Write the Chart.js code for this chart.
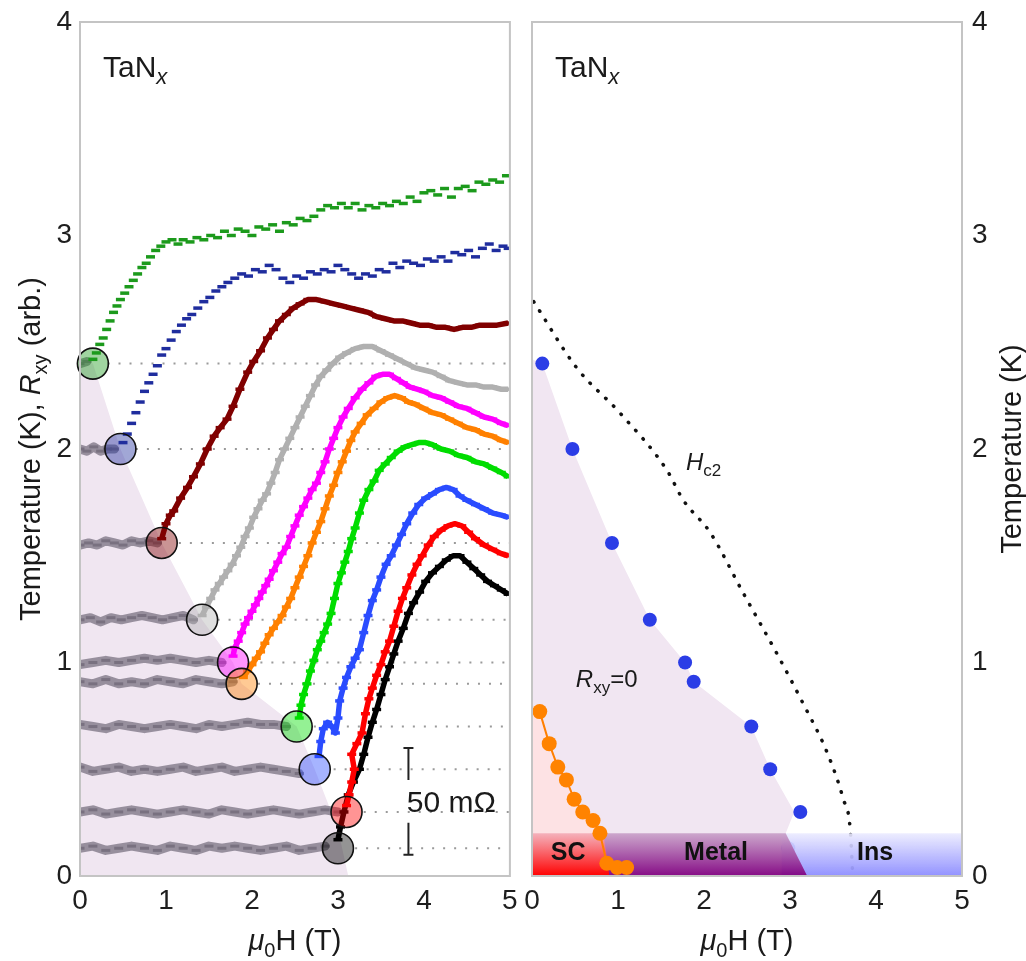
<!DOCTYPE html>
<html>
<head>
<meta charset="utf-8">
<script src="https://cdn.jsdelivr.net/npm/chart.js@4.4.1/dist/chart.umd.min.js"></script>
<style>
  html, body { margin: 0; padding: 0; background: #fff; }
  #wrap { position: relative; width: 1026px; height: 961px; overflow: hidden; }
  canvas { position: absolute; top: 0; }
  #left { left: 0; }
  #right { left: 520px; }
</style>
</head>
<body>
<div id="wrap">
  <canvas id="left" width="527" height="961"></canvas>
  <canvas id="right" width="506" height="961"></canvas>
</div>
<script>
const FONT = "'Liberation Sans', Arial, Helvetica, sans-serif";

// ---- left panel: R_xy(H) sweeps, offset by temperature ----
const temps = [2.4, 2.0, 1.56, 1.2, 1.0, 0.9, 0.7, 0.5, 0.3, 0.13];
const onsetH = [0.15, 0.47, 0.95, 1.42, 1.78, 1.88, 2.52, 2.73, 3.1, 3.0];
const sweepColors = ['#1c9a1c', '#1f2d9e', '#800000', '#b0b0b0', '#ff00ff', '#ff8000', '#00dd00', '#2a4cff', '#ff0000', '#000000'];
const sparseSweep = [true, true, false, false, false, false, false, false, false, false];
const guideStart = [0.32, 0.65, 1.15, 1.6, 1.97, 2.07, 2.72, 2.95, 3.3, 3.2];

const sweep240 = [[0.15,2.42],[0.19,2.45],[0.23,2.49],[0.27,2.52],[0.31,2.56],[0.35,2.6],[0.39,2.64],[0.43,2.67],[0.47,2.7],[0.52,2.73],[0.57,2.76],[0.62,2.79],[0.67,2.82],[0.72,2.85],[0.77,2.87],[0.82,2.9],[0.88,2.93],[0.94,2.95],[1.0,2.97],[1.07,2.98],[1.14,2.96],[1.2,2.98],[1.28,2.97],[1.36,2.99],[1.44,2.98],[1.52,3.0],[1.6,2.99],[1.68,3.02],[1.76,3.0],[1.84,3.03],[1.92,3.02],[2.0,3.0],[2.08,3.04],[2.16,3.03],[2.24,3.05],[2.32,3.02],[2.4,3.06],[2.48,3.05],[2.56,3.08],[2.64,3.07],[2.72,3.09],[2.8,3.12],[2.88,3.14],[2.96,3.13],[3.04,3.15],[3.12,3.13],[3.2,3.15],[3.28,3.12],[3.36,3.14],[3.44,3.13],[3.52,3.15],[3.6,3.14],[3.68,3.16],[3.76,3.15],[3.84,3.18],[3.92,3.16],[4.0,3.2],[4.08,3.21],[4.16,3.19],[4.24,3.22],[4.32,3.18],[4.4,3.22],[4.48,3.23],[4.56,3.21],[4.64,3.25],[4.72,3.24],[4.8,3.26],[4.88,3.25],[4.96,3.28]];
const sweep200 = [[0.5,2.03],[0.55,2.07],[0.6,2.12],[0.65,2.17],[0.7,2.22],[0.75,2.27],[0.8,2.31],[0.85,2.35],[0.9,2.39],[0.95,2.44],[1.0,2.47],[1.06,2.51],[1.12,2.55],[1.18,2.58],[1.24,2.61],[1.3,2.63],[1.37,2.66],[1.44,2.69],[1.51,2.71],[1.58,2.74],[1.65,2.76],[1.72,2.78],[1.8,2.8],[1.88,2.82],[1.96,2.81],[2.04,2.84],[2.12,2.83],[2.2,2.86],[2.28,2.84],[2.36,2.8],[2.44,2.78],[2.52,2.81],[2.6,2.8],[2.68,2.83],[2.76,2.82],[2.84,2.84],[2.92,2.83],[3.0,2.86],[3.08,2.84],[3.16,2.82],[3.24,2.8],[3.32,2.82],[3.4,2.81],[3.48,2.84],[3.56,2.83],[3.64,2.87],[3.72,2.85],[3.8,2.88],[3.88,2.87],[3.96,2.86],[4.04,2.89],[4.12,2.88],[4.2,2.9],[4.28,2.88],[4.36,2.92],[4.44,2.91],[4.52,2.93],[4.6,2.9],[4.68,2.94],[4.76,2.96],[4.84,2.93],[4.92,2.95],[4.98,2.94]];
const sweep156 = [[0.95,1.58],[1.0,1.65],[1.05,1.69],[1.09,1.71],[1.17,1.77],[1.25,1.82],[1.32,1.87],[1.4,1.93],[1.48,2.0],[1.56,2.06],[1.63,2.1],[1.71,2.14],[1.78,2.2],[1.86,2.28],[1.95,2.36],[2.02,2.41],[2.1,2.46],[2.18,2.52],[2.25,2.56],[2.32,2.6],[2.4,2.63],[2.48,2.66],[2.56,2.68],[2.65,2.7],[2.75,2.7],[2.85,2.69],[2.95,2.68],[3.05,2.67],[3.15,2.66],[3.25,2.65],[3.35,2.64],[3.45,2.62],[3.55,2.61],[3.65,2.6],[3.75,2.6],[3.85,2.59],[3.95,2.58],[4.05,2.58],[4.15,2.57],[4.25,2.57],[4.35,2.56],[4.45,2.57],[4.55,2.57],[4.65,2.58],[4.75,2.58],[4.85,2.58],[4.98,2.59]];
const sweep120 = [[1.42,1.22],[1.47,1.26],[1.52,1.3],[1.57,1.34],[1.62,1.37],[1.67,1.4],[1.72,1.43],[1.77,1.46],[1.82,1.5],[1.87,1.54],[1.92,1.59],[1.97,1.63],[2.02,1.68],[2.07,1.72],[2.12,1.76],[2.17,1.79],[2.22,1.84],[2.27,1.89],[2.32,1.95],[2.38,2.0],[2.44,2.05],[2.5,2.1],[2.56,2.15],[2.62,2.2],[2.68,2.25],[2.74,2.3],[2.8,2.34],[2.87,2.37],[2.94,2.4],[3.02,2.43],[3.1,2.45],[3.2,2.47],[3.3,2.48],[3.4,2.48],[3.5,2.46],[3.6,2.44],[3.7,2.42],[3.8,2.4],[3.9,2.38],[4.0,2.37],[4.1,2.36],[4.2,2.34],[4.3,2.32],[4.4,2.31],[4.5,2.3],[4.6,2.3],[4.7,2.29],[4.8,2.29],[4.9,2.28],[4.98,2.28]];
const sweep100 = [[1.78,1.03],[1.8,1.07],[1.84,1.1],[1.88,1.14],[1.92,1.18],[1.96,1.21],[2.0,1.24],[2.04,1.27],[2.08,1.3],[2.12,1.33],[2.16,1.36],[2.2,1.39],[2.25,1.43],[2.3,1.47],[2.35,1.51],[2.4,1.54],[2.45,1.59],[2.5,1.64],[2.55,1.69],[2.6,1.73],[2.65,1.77],[2.7,1.81],[2.75,1.84],[2.8,1.89],[2.85,1.94],[2.9,2.0],[2.95,2.05],[3.0,2.1],[3.06,2.15],[3.12,2.19],[3.2,2.24],[3.28,2.28],[3.36,2.31],[3.44,2.34],[3.52,2.35],[3.6,2.35],[3.68,2.33],[3.76,2.31],[3.84,2.29],[3.92,2.28],[4.0,2.27],[4.1,2.25],[4.2,2.24],[4.3,2.22],[4.4,2.2],[4.5,2.19],[4.6,2.17],[4.7,2.15],[4.8,2.14],[4.9,2.12],[4.98,2.11]];
const sweep090 = [[1.9,0.93],[1.95,0.96],[2.0,0.99],[2.05,1.02],[2.1,1.05],[2.15,1.09],[2.2,1.13],[2.25,1.16],[2.3,1.19],[2.35,1.22],[2.4,1.26],[2.45,1.3],[2.5,1.35],[2.55,1.4],[2.6,1.45],[2.65,1.5],[2.7,1.56],[2.75,1.61],[2.8,1.66],[2.85,1.72],[2.9,1.78],[2.95,1.83],[3.0,1.89],[3.05,1.94],[3.1,1.99],[3.15,2.04],[3.2,2.08],[3.27,2.12],[3.34,2.16],[3.42,2.19],[3.5,2.22],[3.58,2.24],[3.66,2.25],[3.74,2.24],[3.82,2.22],[3.9,2.21],[4.0,2.19],[4.1,2.17],[4.2,2.16],[4.3,2.14],[4.4,2.12],[4.5,2.1],[4.6,2.09],[4.7,2.07],[4.8,2.06],[4.9,2.04],[4.98,2.03]];
const sweep070 = [[2.55,0.74],[2.57,0.8],[2.6,0.85],[2.64,0.9],[2.68,0.96],[2.72,1.01],[2.76,1.06],[2.8,1.1],[2.84,1.14],[2.88,1.18],[2.92,1.23],[2.96,1.3],[3.0,1.37],[3.04,1.42],[3.08,1.47],[3.12,1.52],[3.16,1.58],[3.2,1.63],[3.25,1.7],[3.3,1.76],[3.36,1.81],[3.42,1.85],[3.48,1.9],[3.55,1.93],[3.62,1.96],[3.7,1.99],[3.78,2.01],[3.86,2.02],[3.94,2.03],[4.02,2.03],[4.1,2.02],[4.2,2.0],[4.3,1.99],[4.4,1.97],[4.5,1.96],[4.6,1.94],[4.7,1.93],[4.8,1.91],[4.9,1.89],[4.98,1.87]];
const sweep050 = [[2.78,0.56],[2.8,0.63],[2.83,0.69],[2.88,0.72],[2.93,0.7],[2.97,0.67],[3.0,0.74],[3.02,0.82],[3.06,0.88],[3.1,0.93],[3.15,0.98],[3.2,1.02],[3.25,1.06],[3.3,1.14],[3.35,1.22],[3.4,1.29],[3.45,1.34],[3.5,1.4],[3.56,1.46],[3.62,1.5],[3.68,1.55],[3.74,1.6],[3.8,1.65],[3.87,1.7],[3.94,1.74],[4.02,1.77],[4.1,1.79],[4.18,1.81],[4.26,1.82],[4.34,1.81],[4.42,1.78],[4.5,1.76],[4.6,1.74],[4.7,1.72],[4.8,1.7],[4.9,1.69],[4.98,1.68]];
const sweep030 = [[3.1,0.33],[3.13,0.38],[3.16,0.44],[3.19,0.5],[3.16,0.57],[3.22,0.62],[3.28,0.67],[3.32,0.76],[3.36,0.83],[3.4,0.88],[3.45,0.94],[3.5,0.99],[3.55,1.05],[3.6,1.1],[3.65,1.17],[3.7,1.24],[3.75,1.3],[3.8,1.35],[3.86,1.41],[3.92,1.46],[3.98,1.5],[4.05,1.55],[4.12,1.59],[4.2,1.62],[4.28,1.64],[4.36,1.65],[4.44,1.64],[4.52,1.61],[4.6,1.58],[4.7,1.55],[4.8,1.53],[4.9,1.51],[4.98,1.5]];
const sweep013 = [[3.0,0.17],[3.03,0.23],[3.07,0.3],[3.12,0.38],[3.18,0.44],[3.25,0.5],[3.3,0.57],[3.35,0.65],[3.4,0.72],[3.45,0.78],[3.5,0.85],[3.55,0.92],[3.6,0.98],[3.65,1.04],[3.7,1.1],[3.76,1.16],[3.82,1.23],[3.88,1.28],[3.95,1.33],[4.02,1.38],[4.1,1.42],[4.18,1.45],[4.26,1.48],[4.34,1.5],[4.42,1.5],[4.5,1.47],[4.58,1.44],[4.66,1.41],[4.74,1.38],[4.82,1.36],[4.9,1.34],[4.98,1.32]];

// flat (R_xy = 0) part of each sweep, drawn grey
const flat240 = [[0.0,2.4],[0.08,2.41]];
const flat200 = [[0,2.0],[0.08,1.99],[0.16,2.01],[0.24,1.99],[0.32,2.0],[0.4,2.0]];
const flat156 = [[0,1.55],[0.1,1.56],[0.2,1.55],[0.3,1.57],[0.4,1.56],[0.5,1.55],[0.6,1.57],[0.7,1.56],[0.8,1.57],[0.9,1.56]];
const flat120 = [[0,1.2],[0.12,1.21],[0.24,1.19],[0.36,1.21],[0.48,1.2],[0.6,1.21],[0.72,1.22],[0.84,1.21],[0.96,1.2],[1.08,1.21],[1.2,1.22],[1.32,1.2]];
const flat100 = [[0,0.99],[0.15,1.0],[0.3,1.01],[0.45,1.0],[0.6,1.01],[0.75,1.02],[0.9,1.01],[1.05,1.02],[1.2,1.01],[1.35,1.0],[1.5,1.01],[1.65,1.0]];
const flat090 = [[0,0.91],[0.15,0.9],[0.3,0.92],[0.45,0.9],[0.6,0.91],[0.75,0.9],[0.9,0.92],[1.05,0.91],[1.2,0.9],[1.35,0.92],[1.5,0.91],[1.65,0.9],[1.78,0.91]];
const flat070 = [[0,0.71],[0.15,0.7],[0.3,0.69],[0.45,0.71],[0.6,0.7],[0.75,0.69],[0.9,0.7],[1.05,0.71],[1.2,0.7],[1.35,0.69],[1.5,0.71],[1.65,0.7],[1.8,0.71],[1.95,0.72],[2.1,0.71],[2.25,0.71],[2.4,0.7]];
const flat050 = [[0,0.51],[0.15,0.49],[0.3,0.5],[0.45,0.51],[0.6,0.49],[0.75,0.5],[0.9,0.49],[1.05,0.5],[1.2,0.51],[1.35,0.49],[1.5,0.5],[1.65,0.51],[1.8,0.49],[1.95,0.5],[2.1,0.51],[2.25,0.5],[2.4,0.49],[2.55,0.48]];
const flat030 = [[0,0.3],[0.15,0.31],[0.3,0.29],[0.45,0.3],[0.6,0.31],[0.75,0.3],[0.9,0.29],[1.05,0.3],[1.2,0.31],[1.35,0.3],[1.5,0.29],[1.65,0.31],[1.8,0.3],[1.95,0.29],[2.1,0.3],[2.25,0.31],[2.4,0.3],[2.55,0.29],[2.7,0.3],[2.85,0.31],[3.0,0.3]];
const flat013 = [[0,0.13],[0.15,0.14],[0.3,0.12],[0.45,0.13],[0.6,0.14],[0.75,0.13],[0.9,0.12],[1.05,0.14],[1.2,0.13],[1.35,0.12],[1.5,0.14],[1.65,0.13],[1.8,0.14],[1.95,0.13],[2.1,0.12],[2.25,0.13],[2.4,0.14],[2.55,0.12],[2.7,0.13],[2.85,0.14]];

const zoneLeft = [[0,2.42],[0.15,2.4],[0.47,2.0],[0.95,1.56],[1.42,1.2],[1.78,1.0],[1.88,0.9],[2.52,0.7],[2.73,0.5],[3.0,0.22],[3.12,0]];

// ---- right panel: phase diagram ----
const rxyZeroH = [0.12, 0.47, 0.93, 1.37, 1.78, 1.88, 2.55, 2.77, 3.12, 2.98];
const rxyZeroT = [2.4, 2.0, 1.56, 1.2, 1.0, 0.91, 0.7, 0.5, 0.3, 0.13];
const scH = [0.09, 0.2, 0.3, 0.4, 0.49, 0.59, 0.71, 0.79, 0.87, 0.99, 1.1];
const scT = [0.77, 0.62, 0.51, 0.45, 0.36, 0.3, 0.26, 0.2, 0.06, 0.04, 0.04];
const hc2 = [[0.02,2.69],[0.52,2.38],[1.02,2.17],[1.57,1.9],[1.76,1.76],[2.07,1.61],[2.45,1.33],[2.85,1.04],[3.15,0.81],[3.43,0.58],[3.62,0.36],[3.7,0.22],[3.73,0]];
const zoneRight = [[0,2.42],[0.12,2.4],[0.47,2.0],[0.93,1.56],[1.37,1.2],[1.78,1.0],[1.88,0.91],[2.55,0.7],[2.77,0.5],[3.05,0.3],[2.95,0.2],[3.15,0]];
const scZone = [[0,0.8],[0.09,0.77],[0.2,0.62],[0.3,0.51],[0.4,0.45],[0.49,0.36],[0.59,0.3],[0.71,0.26],[0.79,0.2],[0.87,0.06],[0.9,0]];
const scBand = [[0,0.2],[0.83,0.2],[0.9,0]];
const metalBand = [[0.83,0.2],[2.95,0.2],[3.2,0]];
const insBand = [[2.9,0.2],[5,0.2]];

const pts = a => a.map(([x, y]) => ({ x, y }));
const rgba = (hex, a) => {
  const n = parseInt(hex.slice(1), 16);
  return `rgba(${n >> 16},${(n >> 8) & 255},${n & 255},${a})`;
};

// tick marks are kept (transparent) so labels get their offset from tickLength
const hiddenGrid = tl => ({ display: true, drawOnChartArea: false, drawTicks: true, tickLength: tl, tickColor: 'rgba(0,0,0,0)' });
function xAxis() {
  return {
    type: 'linear', min: 0, max: 5,
    grid: hiddenGrid(8),
    border: { display: false },
    ticks: { stepSize: 1, color: '#1e1e1e', font: { family: FONT, size: 28 }, padding: 0, maxRotation: 0, autoSkip: false },
    afterFit(s) { s.height = 85; }
  };
}
function yAxis(pos, w, tl) {
  return {
    position: pos, min: 0, max: 4,
    grid: hiddenGrid(tl),
    border: { display: false },
    ticks: { stepSize: 1, color: '#1e1e1e', font: { family: FONT, size: 28 }, padding: 0 },
    afterFit(s) { s.width = w; }
  };
}

// text with mixed fonts (italics, subscripts)
function drawParts(ctx, parts, x, y, align) {
  let w = 0;
  parts.forEach(p => { ctx.font = p.f; w += ctx.measureText(p.t).width; });
  let cx = align === 'center' ? x - w / 2 : x;
  ctx.textAlign = 'left';
  ctx.textBaseline = 'alphabetic';
  parts.forEach(p => {
    ctx.font = p.f;
    ctx.fillText(p.t, cx, y + (p.dy || 0));
    cx += ctx.measureText(p.t).width;
  });
}
const big = `29px ${FONT}`, bigI = `italic 29px ${FONT}`, sub = `20px ${FONT}`;
const xTitle = [{ t: 'μ', f: bigI }, { t: '0', f: sub, dy: 7 }, { t: 'H (T)', f: big }];
const tanx = [{ t: 'TaN', f: `30px ${FONT}` }, { t: 'x', f: `italic 22px ${FONT}`, dy: 7 }];

const frame = {
  id: 'frame',
  afterDatasetsDraw(chart) {
    const { ctx, chartArea: a } = chart;
    ctx.save();
    ctx.strokeStyle = '#c4c4c4';
    ctx.lineWidth = 2;
    ctx.strokeRect(a.left, a.top, a.right - a.left, a.bottom - a.top);
    ctx.restore();
  }
};

const leftText = {
  id: 'leftText',
  afterDraw(chart) {
    const { ctx, chartArea: a, scales: { x, y } } = chart;
    ctx.save();
    ctx.fillStyle = '#1a1a1a';
    drawParts(ctx, tanx, a.left + 23, 77);
    drawParts(ctx, xTitle, (a.left + a.right) / 2, 950, 'center');
    ctx.save();
    ctx.translate(30, (a.top + a.bottom) / 2);
    ctx.rotate(-Math.PI / 2);
    drawParts(ctx, [{ t: 'Temperature (K), ', f: big }, { t: 'R', f: bigI }, { t: 'xy', f: sub, dy: 7 }, { t: ' (arb.)', f: big }], 0, 10, 'center');
    ctx.restore();
    // 50 mOhm scale bar
    const bx = x.getPixelForValue(3.82);
    ctx.strokeStyle = '#222';
    ctx.lineWidth = 2;
    ctx.beginPath();
    ctx.moveTo(bx, y.getPixelForValue(0.6)); ctx.lineTo(bx, y.getPixelForValue(0.45));
    ctx.moveTo(bx, y.getPixelForValue(0.25)); ctx.lineTo(bx, y.getPixelForValue(0.1));
    ctx.moveTo(bx - 5, y.getPixelForValue(0.6)); ctx.lineTo(bx + 5, y.getPixelForValue(0.6));
    ctx.moveTo(bx - 5, y.getPixelForValue(0.1)); ctx.lineTo(bx + 5, y.getPixelForValue(0.1));
    ctx.stroke();
    drawParts(ctx, [{ t: '50 mΩ', f: `30px ${FONT}` }], x.getPixelForValue(4.32), y.getPixelForValue(0.3), 'center');
    ctx.restore();
  }
};

const rightText = {
  id: 'rightText',
  afterDraw(chart) {
    const { ctx, chartArea: a, scales: { x, y } } = chart;
    ctx.save();
    ctx.fillStyle = '#1a1a1a';
    drawParts(ctx, tanx, a.left + 23, 77);
    drawParts(ctx, xTitle, (a.left + a.right) / 2, 950, 'center');
    drawParts(ctx, [{ t: 'H', f: `italic 24px ${FONT}` }, { t: 'c2', f: `17px ${FONT}`, dy: 6 }], x.getPixelForValue(1.79), y.getPixelForValue(1.9));
    drawParts(ctx, [{ t: 'R', f: `italic 24px ${FONT}` }, { t: 'xy', f: `17px ${FONT}`, dy: 6 }, { t: '=0', f: `24px ${FONT}` }], x.getPixelForValue(0.51), y.getPixelForValue(0.885));
    const bold = `bold 25px ${FONT}`;
    ctx.fillStyle = '#111';
    drawParts(ctx, [{ t: 'SC', f: bold }], x.getPixelForValue(0.42), y.getPixelForValue(0.075), 'center');
    drawParts(ctx, [{ t: 'Metal', f: bold }], x.getPixelForValue(2.14), y.getPixelForValue(0.075), 'center');
    drawParts(ctx, [{ t: 'Ins', f: bold }], x.getPixelForValue(3.99), y.getPixelForValue(0.075), 'center');
    ctx.fillStyle = '#1a1a1a';
    ctx.save();
    ctx.translate(491, (a.top + a.bottom) / 2);
    ctx.rotate(-Math.PI / 2);
    drawParts(ctx, [{ t: 'Temperature (K)', f: big }], 0, 10, 'center');
    ctx.restore();
    ctx.restore();
  }
};

// ---- left chart ----
const sweeps = [sweep240, sweep200, sweep156, sweep120, sweep100, sweep090, sweep070, sweep050, sweep030, sweep013];
const flats = [flat240, flat200, flat156, flat120, flat100, flat090, flat070, flat050, flat030, flat013];
const leftSets = [];
leftSets.push({
  data: onsetH.map((h, i) => ({ x: h, y: temps[i] })),
  showLine: false, pointRadius: 15.5,
  pointBackgroundColor: sweepColors.map(c => rgba(c, 0.42)),
  pointBorderColor: '#111', pointBorderWidth: 1.6, order: 0, clip: false
});
sweeps.forEach((s, i) => leftSets.push({
  data: pts(s), showLine: !sparseSweep[i],
  borderColor: sweepColors[i], borderWidth: 5.5, borderJoinStyle: 'round',
  pointStyle: 'line', pointRadius: 4.5, pointBorderWidth: 3.5,
  pointBorderColor: sweepColors[i], pointBackgroundColor: sweepColors[i], order: 1
}));
flats.forEach(f => leftSets.push({
  data: pts(f), showLine: true,
  borderColor: 'rgba(135,127,142,0.85)', borderWidth: 9, borderJoinStyle: 'round', borderCapStyle: 'round',
  pointStyle: 'line', pointRadius: 4.5, pointBorderWidth: 3,
  pointBorderColor: 'rgba(118,110,125,0.9)', order: 2
}));
temps.forEach((t, i) => leftSets.push({
  data: [{ x: guideStart[i], y: t }, { x: 5, y: t }],
  showLine: true, borderColor: '#9a9a9a', borderWidth: 2, borderDash: [2, 9], pointRadius: 0, order: 3
}));
leftSets.push({
  data: pts(zoneLeft), showLine: true, fill: 'origin',
  backgroundColor: '#f0e6f1', borderColor: 'rgba(0,0,0,0)', borderWidth: 1, pointRadius: 0, order: 4
});

new Chart(document.getElementById('left'), {
  type: 'line',
  data: { datasets: leftSets },
  options: {
    responsive: false, animation: false, devicePixelRatio: 1,
    layout: { padding: { top: 22, right: 11, left: 0, bottom: 0 } },
    plugins: { legend: { display: false }, tooltip: { enabled: false } },
    scales: { x: xAxis(), y: yAxis('left', 80, 8) }
  },
  plugins: [frame, leftText]
});

// ---- right chart ----
function bandFill(bottom, top) {
  return c => {
    const chart = c.chart;
    if (!chart.chartArea) return bottom;
    const ys = chart.scales.y;
    const g = chart.ctx.createLinearGradient(0, ys.getPixelForValue(0), 0, ys.getPixelForValue(0.2));
    g.addColorStop(0, bottom);
    g.addColorStop(1, top);
    return g;
  };
}
const clear = 'rgba(0,0,0,0)';
const rightSets = [
  {
    data: scH.map((h, i) => ({ x: h, y: scT[i] })), showLine: true,
    borderColor: '#ff7f00', borderWidth: 2, pointRadius: 7.5,
    pointBackgroundColor: '#ff8300', pointBorderColor: '#ff8300', pointBorderWidth: 0, order: 0, clip: false
  },
  { data: pts(scBand), fill: 'origin', backgroundColor: bandFill('rgba(255,0,0,1)', 'rgba(244,175,185,0.95)'), borderColor: clear, pointRadius: 0, order: 1 },
  { data: pts(metalBand), fill: 'origin', backgroundColor: bandFill('rgba(128,0,128,0.95)', 'rgba(200,160,200,0.9)'), borderColor: clear, pointRadius: 0, order: 1.1 },
  { data: pts(insBand), fill: 'origin', backgroundColor: bandFill('rgba(140,140,255,0.95)', 'rgba(235,235,255,0.9)'), borderColor: clear, pointRadius: 0, order: 1.2 },
  {
    data: rxyZeroH.map((h, i) => ({ x: h, y: rxyZeroT[i] })), showLine: false,
    pointRadius: 7, pointBackgroundColor: '#2b3de6', pointBorderColor: '#2b3de6', pointBorderWidth: 0, order: 2
  },
  {
    data: pts(hc2), showLine: true, borderColor: '#111', borderWidth: 3.5, borderDash: [0.5, 10.5],
    borderCapStyle: 'round', tension: 0.3, cubicInterpolationMode: 'monotone', pointRadius: 0, order: 3
  },
  { data: pts(scZone), fill: 'origin', backgroundColor: '#fde2e4', borderColor: clear, pointRadius: 0, order: 4 },
  { data: pts(zoneRight), fill: 'origin', backgroundColor: '#f1e6f2', borderColor: clear, pointRadius: 0, order: 5 }
];

new Chart(document.getElementById('right'), {
  type: 'line',
  data: { datasets: rightSets },
  options: {
    responsive: false, animation: false, devicePixelRatio: 1,
    layout: { padding: { top: 22, right: 0, left: 12, bottom: 0 } },
    plugins: { legend: { display: false }, tooltip: { enabled: false } },
    scales: { x: xAxis(), y: yAxis('right', 64, 10) }
  },
  plugins: [frame, rightText]
});
</script>
</body>
</html>
